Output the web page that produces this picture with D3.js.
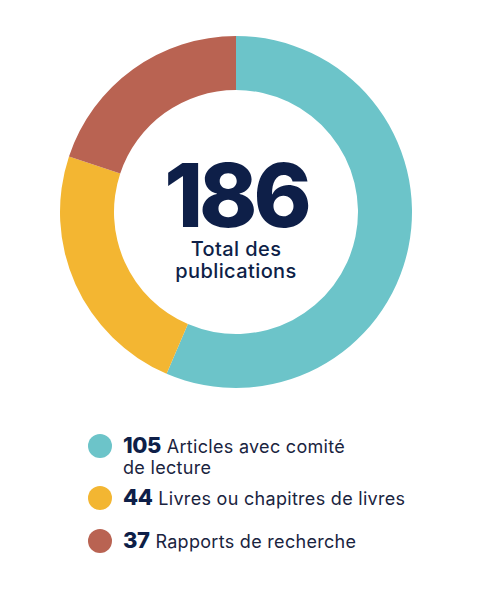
<!DOCTYPE html>
<html><head><meta charset="utf-8">
<script src="https://cdn.jsdelivr.net/npm/d3@7"></script>
<style>html,body{margin:0;padding:0;background:#fff;}svg{display:block;}</style>
</head><body>
<script>
const categories = ["Articles avec comité de lecture", "Livres ou chapitres de livres", "Rapports de recherche"];
const values = [105, 44, 37];
const colors = ["#6CC4C9", "#F3B632", "#B96352"];
const centerLabel = ["Total des", "publications"];

const W = 480, H = 600;
const svg = d3.select("body").append("svg").attr("width", W).attr("height", H);
const font = "Inter, 'Open Sans', sans-serif";
const navy = "#0E1F48";

const cx = 236, cy = 212, R = 176, r = 122;
const pie = d3.pie().sort(null).value(d => d)(values);
const arc = d3.arc().innerRadius(r).outerRadius(R);
const g = svg.append("g").attr("transform", `translate(${cx},${cy})`);
g.selectAll("path").data(pie).join("path")
  .attr("d", arc).attr("fill", (d, i) => colors[i]);

const total = d3.sum(values);
g.append("text").attr("x", 0).attr("y", 15).attr("text-anchor", "middle")
  .attr("font-family", font).attr("font-weight", 800).attr("font-size", 88)
  .attr("letter-spacing", -4).attr("fill", navy).text(total);
centerLabel.forEach((t, i) => {
  g.append("text").attr("x", 0).attr("y", 44 + i * 22).attr("text-anchor", "middle")
    .attr("font-family", font).attr("font-weight", 500).attr("font-size", 20)
    .attr("letter-spacing", 0.4).attr("fill", navy).text(t);
});

// legend
const legendY = [453, 505, 548];
const lines = [["Articles avec comité", "de lecture"], ["Livres ou chapitres de livres"], ["Rapports de recherche"]];
values.forEach((v, i) => {
  const y = legendY[i];
  svg.append("circle").attr("cx", 100).attr("cy", y - 7).attr("r", 12).attr("fill", colors[i]);
  const t = svg.append("text").attr("x", 123).attr("y", y).attr("font-family", font).attr("fill", navy);
  t.append("tspan").attr("font-weight", 800).attr("font-size", 22).attr("letter-spacing", -0.5).text(v);
  t.append("tspan").attr("dx", 6).attr("font-weight", 400).attr("font-size", 18).attr("letter-spacing", 0.3).attr("fill", "#1a2440").text(lines[i][0]);
  if (lines[i][1]) {
    svg.append("text").attr("x", 123).attr("y", y + 21).attr("font-family", font)
      .attr("font-size", 18).attr("letter-spacing", 0.3).attr("fill", "#1a2440").text(lines[i][1]);
  }
});
</script>
</body></html>
